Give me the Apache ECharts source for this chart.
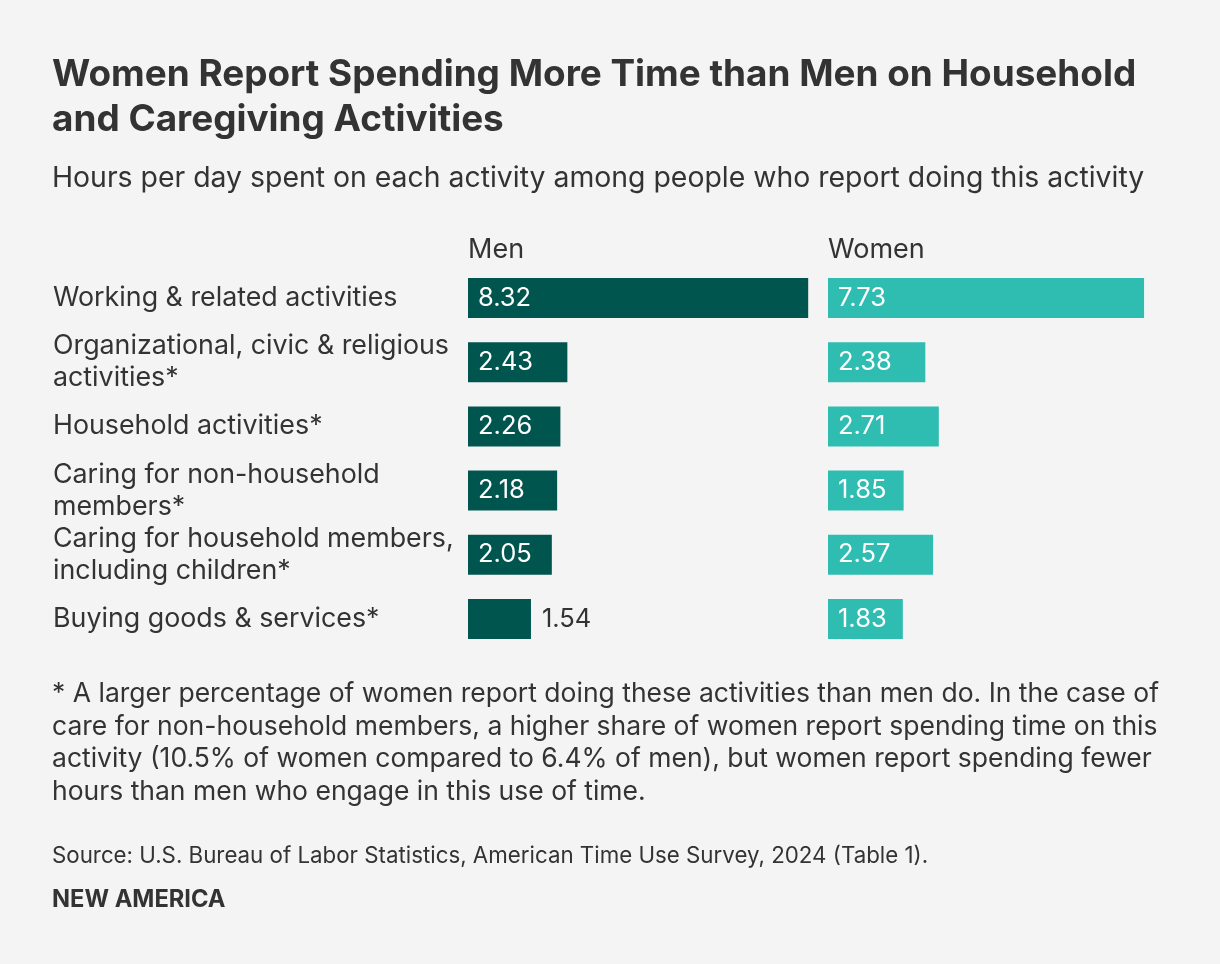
<!DOCTYPE html>
<html>
<head>
<meta charset="utf-8">
<script src="https://cdn.jsdelivr.net/npm/echarts@6/dist/echarts.min.js"></script>
<style>
html,body{margin:0;padding:0;background:#f4f4f4;}
#chart{width:1220px;height:964px;}
</style>
</head>
<body>
<div id="chart"></div>
<script>
const categories = [
  "Working & related activities",
  "Organizational, civic & religious\nactivities*",
  "Household activities*",
  "Caring for non-household\nmembers*",
  "Caring for household members,\nincluding children*",
  "Buying goods & services*"
];
const menValues = [8.32, 2.43, 2.26, 2.18, 2.05, 1.54];
const womenValues = [7.73, 2.38, 2.71, 1.85, 2.57, 1.83];
const seriesNames = ["Men", "Women"];

const FONT = "Inter";
const TXT = "#333333";
const DARK = "#00564f";
const TEAL = "#2fbdb2";

function buildData(vals) {
  return vals.map(v => {
    if (v < 1.7) {
      return { value: v, label: { position: "right", color: TXT, distance: 11 } };
    }
    return v;
  });
}

const gridTop = 266, gridH = 385;
const chart = echarts.init(document.getElementById("chart"));
chart.setOption({
  backgroundColor: "#f4f4f4",
  animation: false,
  textStyle: { fontFamily: FONT },
  title: [
    { text: "Women Report Spending More Time than Men on Household\nand Caregiving Activities",
      left: 52, top: 52, padding: 0,
      textStyle: { fontFamily: FONT, fontSize: 36.9, fontWeight: "bold", color: TXT, lineHeight: 45 } },
    { text: "Hours per day spent on each activity among people who report doing this activity",
      left: 52, top: 164, padding: 0,
      textStyle: { fontFamily: FONT, fontSize: 28.4, fontWeight: "normal", color: TXT, lineHeight: 28 } },
    { text: seriesNames[0], left: 468, top: 236, padding: 0,
      textStyle: { fontFamily: FONT, fontSize: 27, fontWeight: "normal", color: TXT, lineHeight: 28 } },
    { text: seriesNames[1], left: 828, top: 236, padding: 0,
      textStyle: { fontFamily: FONT, fontSize: 27, fontWeight: "normal", color: TXT, lineHeight: 28 } }
  ],
  grid: [
    { left: 468, top: gridTop, width: 368, height: gridH },
    { left: 828, top: gridTop, width: 368, height: gridH }
  ],
  xAxis: [
    { gridIndex: 0, type: "value", min: 0, max: 9, show: false },
    { gridIndex: 1, type: "value", min: 0, max: 9, show: false }
  ],
  yAxis: [
    { gridIndex: 0, type: "category", data: categories, inverse: true,
      axisLine: { show: false }, axisTick: { show: false }, splitLine: { show: false },
      axisLabel: { align: "left", margin: 415, fontFamily: FONT, fontSize: 26.8, color: TXT, lineHeight: 32 } },
    { gridIndex: 1, type: "category", data: categories, inverse: true, show: false }
  ],
  series: [
    { name: seriesNames[0], type: "bar", xAxisIndex: 0, yAxisIndex: 0,
      data: buildData(menValues), barWidth: 40, itemStyle: { color: DARK },
      label: { show: true, position: "insideLeft", distance: 10, color: "#ffffff",
               fontFamily: FONT, fontSize: 25.5, formatter: p => p.value.toFixed(2) } },
    { name: seriesNames[1], type: "bar", xAxisIndex: 1, yAxisIndex: 1,
      data: buildData(womenValues), barWidth: 40, itemStyle: { color: TEAL },
      label: { show: true, position: "insideLeft", distance: 10, color: "#ffffff",
               fontFamily: FONT, fontSize: 25.5, formatter: p => p.value.toFixed(2) } }
  ],
  graphic: [
    { type: "text", left: 52, top: 678,
      style: { text: "* A larger percentage of women report doing these activities than men do. In the case of\ncare for non-household members, a higher share of women report spending time on this\nactivity (10.5% of women compared to 6.4% of men), but women report spending fewer\nhours than men who engage in this use of time.",
        fontFamily: FONT, fontSize: 26.5, lineHeight: 32.5, fill: TXT } },
    { type: "text", left: 52, top: 845,
      style: { text: "Source: U.S. Bureau of Labor Statistics, American Time Use Survey, 2024 (Table 1).",
        fontFamily: FONT, fontSize: 22.3, lineHeight: 22, fill: TXT } },
    { type: "text", left: 52, top: 888,
      style: { text: "NEW AMERICA", fontFamily: FONT, fontSize: 23.7, lineHeight: 24, fontWeight: "bold", fill: TXT } }
  ]
});
</script>
</body>
</html>
